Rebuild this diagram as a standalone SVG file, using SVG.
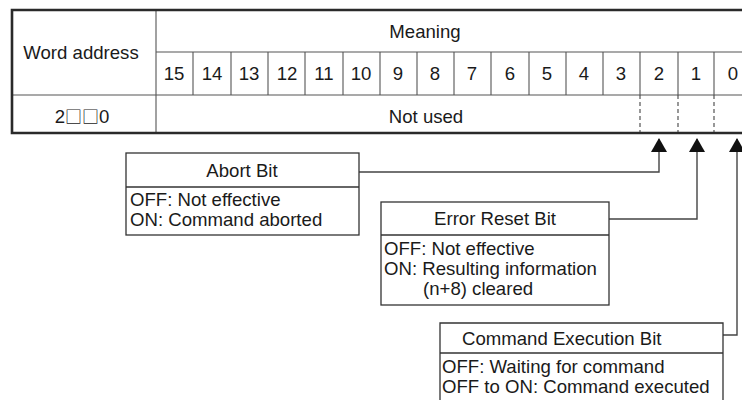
<svg xmlns="http://www.w3.org/2000/svg" width="742" height="400" viewBox="0 0 742 400">
<style>
text{font-family:"Liberation Sans",Arial,sans-serif;font-size:18.6px;fill:#1a1a1a}
.c{text-anchor:middle}
.sq{font-family:"Noto Sans CJK JP",sans-serif;font-size:17px}
.outer{stroke:#2a2a2a;stroke-width:2.6;fill:none}
.inner{stroke:#555;stroke-width:1.1;fill:none}
.dash{stroke:#444;stroke-width:1.1;stroke-dasharray:4 3;fill:none}
.box{stroke:#333;stroke-width:1.3;fill:#fff}
.conn{stroke:#444;stroke-width:1.4;fill:none}
</style>
<defs>
<marker id="ah" markerUnits="userSpaceOnUse" markerWidth="16" markerHeight="14" refX="8" refY="1" orient="0" viewBox="0 0 16 14" overflow="visible">
<path d="M8 0 L16 14 L0 14 Z" fill="#111"/>
</marker>
</defs>
<g id="table">
<path class="inner" d="M156 52 H742 M156 10 V133 M12 95 H742"/>
<path class="inner" d="M193 52 V95 M231 52 V95 M268 52 V95 M305 52 V95 M343 52 V95 M380 52 V95 M417 52 V95 M454 52 V95 M491 52 V95 M529 52 V95 M566 52 V95 M603 52 V95 M640 52 V95 M678 52 V95 M714 52 V95"/>
<path class="dash" d="M640 95 V133 M678 95 V133 M714 95 V133"/>
<path class="outer" d="M742 10 H12 V133 H742"/>
<text x="81" y="59" class="c">Word address</text>
<text x="425" y="38" class="c">Meaning</text>
<text x="174" y="80" class="c">15</text>
<text x="212" y="80" class="c">14</text>
<text x="249" y="80" class="c">13</text>
<text x="287" y="80" class="c">12</text>
<text x="324" y="80" class="c">11</text>
<text x="361" y="80" class="c">10</text>
<text x="398" y="80" class="c">9</text>
<text x="435" y="80" class="c">8</text>
<text x="472" y="80" class="c">7</text>
<text x="510" y="80" class="c">6</text>
<text x="547" y="80" class="c">5</text>
<text x="584" y="80" class="c">4</text>
<text x="621" y="80" class="c">3</text>
<text x="659" y="80" class="c">2</text>
<text x="696" y="80" class="c">1</text>
<text x="733" y="80" class="c">0</text>
<text x="82" y="123" class="c">2<tspan class="sq">□□</tspan>0</text>
<text x="426" y="123" class="c">Not used</text>
</g>
<g id="connectors">
<path class="conn" d="M359 172 H659 V139" marker-end="url(#ah)"/>
<path class="conn" d="M609 219 H697 V139" marker-end="url(#ah)"/>
<path class="conn" d="M723 335 H737 V139" marker-end="url(#ah)"/>
</g>
<g id="abort-bit">
<rect class="box" x="126" y="153" width="233" height="82"/>
<line class="box" x1="126" y1="187" x2="359" y2="187"/>
<text x="242" y="177" class="c">Abort Bit</text>
<text x="130" y="206">OFF: Not effective</text>
<text x="130" y="226">ON: Command aborted</text>
</g>
<g id="error-reset-bit">
<rect class="box" x="381" y="202" width="228" height="103"/>
<line class="box" x1="381" y1="235" x2="609" y2="235"/>
<text x="495" y="225" class="c">Error Reset Bit</text>
<text x="384" y="255">OFF: Not effective</text>
<text x="384" y="275">ON: Resulting information</text>
<text x="423" y="295">(n+8) cleared</text>
</g>
<g id="command-execution-bit">
<path class="box" d="M440 402 V323 H723 V402"/>
<line class="box" x1="440" y1="353" x2="723" y2="353"/>
<text x="462" y="345">Command Execution Bit</text>
<text x="442" y="373">OFF: Waiting for command</text>
<text x="442" y="393">OFF to ON: Command executed</text>
</g>
</svg>
